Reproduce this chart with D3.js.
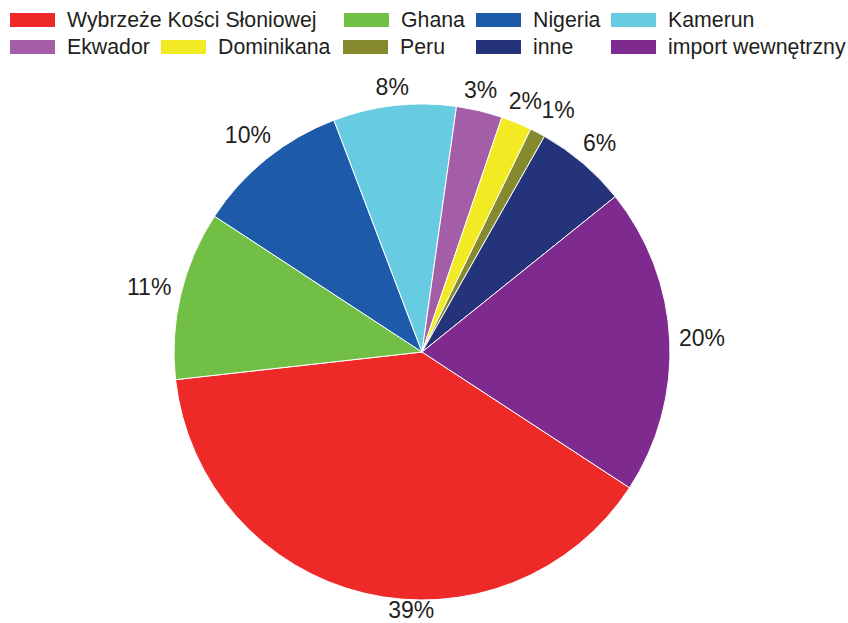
<!DOCTYPE html>
<html>
<head>
<meta charset="utf-8">
<script src="https://cdn.jsdelivr.net/npm/d3@7/dist/d3.min.js"></script>
<style>
  html, body { margin: 0; padding: 0; background: #fff; }
  svg { display: block; }
  text { font-family: "Liberation Sans", Arial, sans-serif; fill: #231f20; }
</style>
</head>
<body>
<svg id="chart" width="848" height="623"></svg>
<script>
// Cocoa sources (share, %)
const categories = [
  "Wybrzeże Kości Słoniowej", "Ghana", "Nigeria", "Kamerun",
  "Ekwador", "Dominikana", "Peru", "inne", "import wewnętrzny"
];
const shares = [39, 11, 10, 8, 3, 2, 1, 6, 20];
const sliceColors = [
  "#ee2a28", "#72bf45", "#1d5aa9", "#67cce2",
  "#a35ea7", "#f2ea22", "#858a2e", "#25337a", "#7f2a8e"
];
// legend rows, as category indices
const legendRows = [[0, 1, 2, 3], [4, 5, 6, 7, 8]];

const svg = d3.select("#chart");
const cx = 422, cy = 352, R = 248;
const deg = Math.PI / 180;
const start = 123.2 * deg;

const data = categories.map((c, i) => ({ name: c, value: shares[i], color: sliceColors[i] }));

const pie = d3.pie().value(d => d.value).sort(null)
  .startAngle(start).endAngle(start + 2 * Math.PI);
const arcs = pie(data);
const arc = d3.arc().innerRadius(0).outerRadius(R);

const g = svg.append("g").attr("transform", `translate(${cx},${cy})`);
g.selectAll("path").data(arcs).join("path")
  .attr("d", arc)
  .attr("fill", d => d.data.color)
  .attr("stroke", "#ffffff")
  .attr("stroke-width", 1);

// percentage labels just outside the rim (a few nudged to avoid crowding)
const labelSize = 23;
const labelNudge = {
  "Wybrzeże Kości Słoniowej": { da: -11 * deg, dr: -8 },
  "Peru": { da: 1.6 * deg, dr: 5 },
  "Ekwador": { da: -0.8 * deg, dr: 0 }
};
const pct = d3.format("d");
g.selectAll("text.lbl").data(arcs).join("text")
  .attr("class", "lbl")
  .attr("font-size", labelSize)
  .attr("text-anchor", "middle")
  .attr("dominant-baseline", "central")
  .text(d => pct(d.data.value) + "%")
  .each(function (d) {
    const n = labelNudge[d.data.name] || { da: 0, dr: 0 };
    const a = (d.startAngle + d.endAngle) / 2 + n.da;
    const w = this.getComputedTextLength();
    const h = labelSize * 0.72;
    const s = Math.sin(a), c = -Math.cos(a);
    const off = R + 9 + n.dr + Math.abs(s) * w / 2 + Math.abs(c) * h / 2;
    d3.select(this).attr("x", s * off).attr("y", c * off);
  });

// legend
const colX = [[10, 344, 476, 611], [10, 161, 343, 476, 611]];
const rowY = [20, 47];
const legend = svg.append("g");
legendRows.forEach((row, r) => {
  row.forEach((idx, k) => {
    const x = colX[r][k], y = rowY[r];
    legend.append("rect")
      .attr("x", x).attr("y", y - 7)
      .attr("width", 45).attr("height", 14)
      .attr("fill", sliceColors[idx]);
    legend.append("text")
      .attr("x", x + 57).attr("y", y)
      .attr("dominant-baseline", "central")
      .attr("font-size", 21.3)
      .text(categories[idx]);
  });
});
</script>
</body>
</html>
